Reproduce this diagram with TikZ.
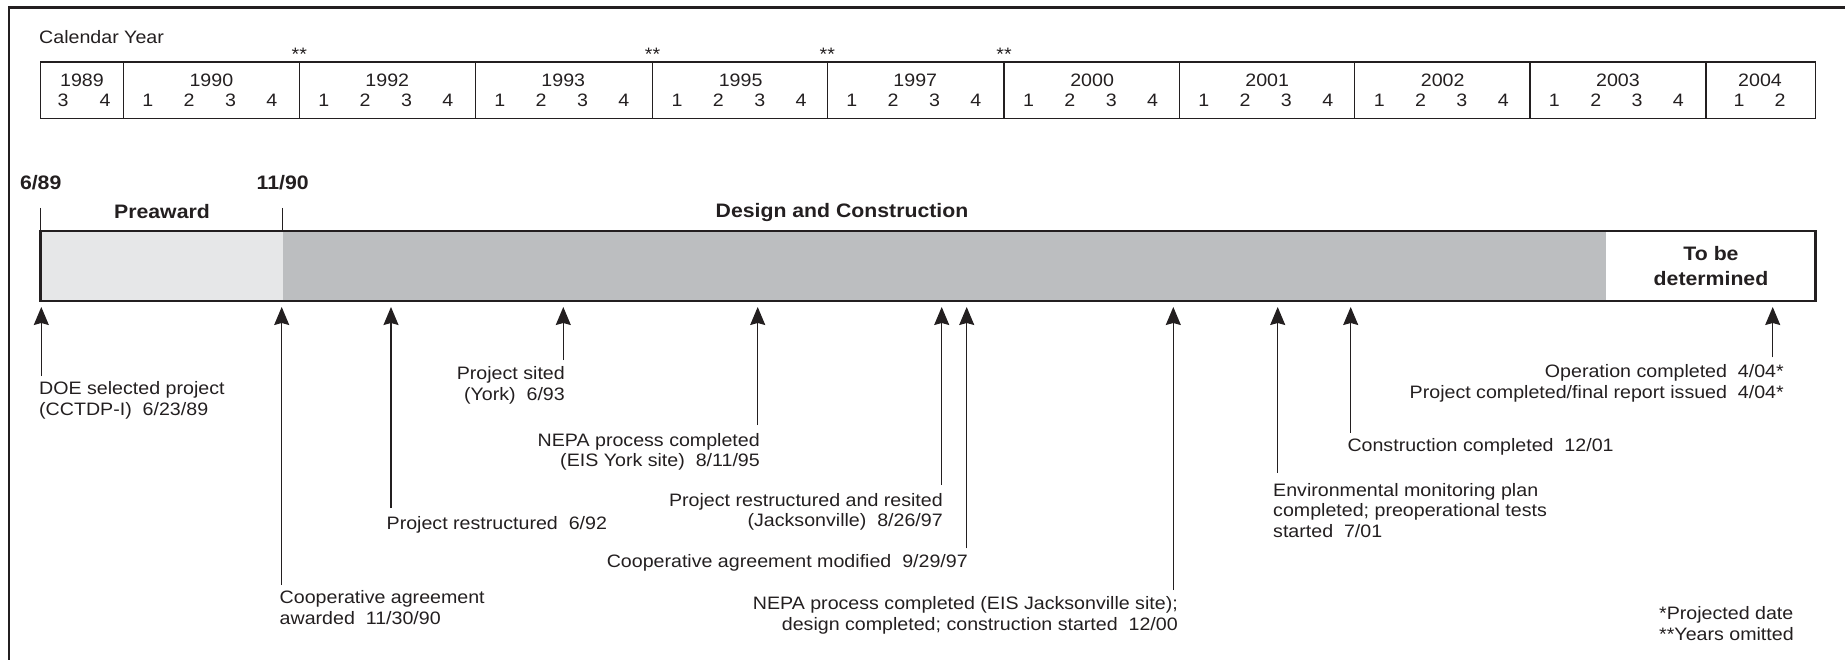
\documentclass[tikz,border=0pt]{standalone}
\usepackage{fontspec}
\setmainfont{Liberation Sans}[FakeStretch=1.09]
\usetikzlibrary{arrows.meta}
\definecolor{ink}{HTML}{231F20}
\definecolor{lightfill}{HTML}{E6E7E8}
\definecolor{darkfill}{HTML}{BCBEC0}
\newcommand{\topstrut}{\rule{0pt}{13.2pt}}
\begin{document}
\begin{tikzpicture}[x=1pt,y=-1pt,
  txt/.style={font=\fontsize{18}{20.8}\selectfont, text=ink, inner sep=0pt},
  boldtxt/.style={font=\fontsize{19.5}{25.5}\selectfont\bfseries, text=ink, inner sep=0pt},
  evarrow/.style={draw=ink, line width=1.2pt, -{Stealth[length=18pt,width=15pt,inset=2pt]}},
  tableline/.style={draw=ink, line width=1.3pt},
]
\useasboundingbox (0,0) rectangle (1845,660);

% frame (top and left)
\draw[ink, line width=2.7pt] (9,665) -- (9,7.2) -- (1850,7.2);

% calendar table
\node[txt, anchor=base west] (cal) at (39,43.5) {Calendar Year};
\foreach \x [count=\i] in {299.3,652.6,827.3,1004.1}
  \node[txt, anchor=base] (ast\i) at (\x,60.5) {**};
\draw[tableline] (40.7,62) rectangle (1815.8,118.5);
\foreach \x in {123.4,299.3,475.3,652.6,827.3,1004.1,1179.2,1354.7,1529.9,1706}
  \draw[tableline] (\x,62) -- (\x,118.5);
\node[txt, anchor=base] (y0) at (82,86.5) {1989};
\node[txt, anchor=base] (q0-3) at (63,106.5) {3};
\node[txt, anchor=base] (q0-4) at (105,106.5) {4};
\foreach \s/\yy [count=\i] in {123.4/1990,299.3/1992,475.3/1993,652.6/1995,827.3/1997,1004.1/2000,1179.2/2001,1354.7/2002,1529.9/2003}{
  \node[txt, anchor=base] (y\i) at (\s+88,86.5) {\yy};
  \foreach \o [count=\j] in {24.5,65.8,107.2,148.5}
    \node[txt, anchor=base] (q\i-\j) at (\s+\o,106.5) {\j};
}
\node[txt, anchor=base] (y10) at (1760,86.5) {2004};
\node[txt, anchor=base] (q10-1) at (1739,106.5) {1};
\node[txt, anchor=base] (q10-2) at (1780,106.5) {2};

% phase bar
\node[boldtxt, anchor=base] (d689) at (40.7,189.5) {6/89};
\node[boldtxt, anchor=base] (d1190) at (282.7,189.5) {11/90};
\node[boldtxt, anchor=base] (pre) at (162,219) {Preaward};
\node[boldtxt, anchor=base] (dc) at (842,218) {Design and Construction};
\draw[ink, line width=1.2pt] (40.7,208) -- (40.7,231);
\draw[ink, line width=1.2pt] (282.7,208) -- (282.7,231);
\fill[lightfill] (40.7,231) rectangle (282.7,301);
\fill[darkfill] (282.7,231) rectangle (1605.8,301);
\draw[ink, line width=2.5pt] (40.7,231) rectangle (1815.5,301);
\node[boldtxt, align=center, anchor=north] (tbd) at (1711,245.8) {To be\\determined};

% event labels
\node[txt, align=left, anchor=north west] (e1) at (39,381) {\topstrut DOE selected project\\(CCTDP-I)\ \ 6/23/89};
\node[txt, align=left, anchor=north west] (e2) at (279.5,590) {\topstrut Cooperative agreement\\awarded\ \ 11/30/90};
\node[txt, anchor=base west] (e3) at (386.5,529) {Project restructured\ \ 6/92};
\node[txt, align=right, anchor=north east] (e4) at (565,365.8) {\topstrut Project sited\\(York)\ \ 6/93};
\node[txt, align=right, anchor=north east] (e5) at (760,432.6) {\topstrut NEPA process completed\\(EIS York site)\ \ 8/11/95};
\node[txt, align=right, anchor=north east] (e6) at (943,492.6) {\topstrut Project restructured and resited\\(Jacksonville)\ \ 8/26/97};
\node[txt, anchor=base east] (e7) at (968,567.5) {Cooperative agreement modified\ \ 9/29/97};
\node[txt, align=right, anchor=north east] (e8) at (1178,596) {\topstrut NEPA process completed (EIS Jacksonville site);\\design completed; construction started\ \ 12/00};
\node[txt, align=left, anchor=north west] (e9) at (1273,482.6) {\topstrut Environmental monitoring plan\\completed; preoperational tests\\started\ \ 7/01};
\node[txt, anchor=base west] (e10) at (1347.3,451.5) {Construction completed\ \ 12/01};
\node[txt, align=right, anchor=north east] (e11) at (1784,364) {\topstrut Operation completed\ \ 4/04*\\Project completed/final report issued\ \ 4/04*};
\node[txt, align=left, anchor=north west] (notes) at (1659,606) {\topstrut *Projected date\\**Years omitted};

% arrows
\foreach \x/\b [count=\i] in {41.3/376,281.7/585,391/508,563.3/360,757.7/425,941.7/485,966.7/548.3,1173.3/590,1277.7/472.7,1350.7/432.7,1772.7/357.3}{
  \coordinate (foot\i) at (\x,\b);
  \coordinate (tip\i) at (\x,307);
  \draw[evarrow] (foot\i) -- (tip\i);
}
\end{tikzpicture}
\end{document}
